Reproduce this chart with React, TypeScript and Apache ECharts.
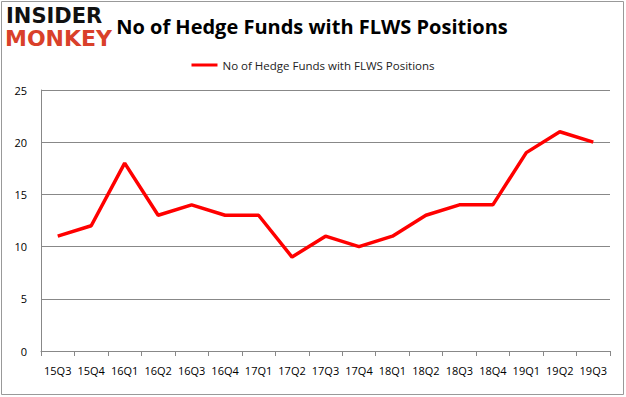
import React, { useEffect, useRef } from "react";
import * as echarts from "echarts";

const categories = ["15Q3", "15Q4", "16Q1", "16Q2", "16Q3", "16Q4", "17Q1", "17Q2", "17Q3", "17Q4", "18Q1", "18Q2", "18Q3", "18Q4", "19Q1", "19Q2", "19Q3"];
const hedgeFunds = [11, 12, 18, 13, 14, 13, 13, 9, 11, 10, 11, 13, 14, 14, 19, 21, 20];
const seriesName = "No of Hedge Funds with FLWS Positions";
const titleText = "No of Hedge Funds with FLWS Positions";

export default function App() {
  const ref = useRef<HTMLDivElement>(null);
  useEffect(() => {
    if (!ref.current) return;
    const chart = echarts.init(ref.current, null, { renderer: "svg" });
    chart.setOption({
      animation: false,
      backgroundColor: "#ffffff",
      title: {
        text: titleText,
        left: 307,
        textAlign: "center",
        top: 11,
        textStyle: { fontFamily: "Open Sans", fontWeight: "bold", fontSize: 20, color: "#000" },
      },
      legend: {
        data: [seriesName],
        top: 54,
        left: "center",
        itemWidth: 26,
        itemHeight: 3,
        icon: "rect",
        textStyle: { fontFamily: "Open Sans", fontSize: 11.5, color: "#222" },
      },
      grid: { left: 41, right: 16, top: 90, bottom: 46 },
      xAxis: {
        type: "category",
        data: categories,
        boundaryGap: true,
        axisLine: { lineStyle: { color: "#888", width: 1 } },
        axisTick: { show: true, alignWithLabel: false, length: 5, lineStyle: { color: "#888" } },
        axisLabel: { fontFamily: "Open Sans", fontSize: 11, color: "#000", margin: 14, interval: 0 },
      },
      yAxis: {
        type: "value",
        min: 0,
        max: 25,
        interval: 5,
        axisLine: { show: true, lineStyle: { color: "#888" } },
        axisTick: { show: false },
        splitLine: { lineStyle: { color: "#888", width: 1 } },
        axisLabel: { fontFamily: "Open Sans", fontSize: 11, color: "#000", margin: 14 },
      },
      series: [
        {
          name: seriesName,
          type: "line",
          data: hedgeFunds,
          showSymbol: false,
          symbol: "none",
          lineStyle: { color: "#ff0000", width: 3.5 },
          itemStyle: { color: "#ff0000" },
        },
      ],
      graphic: [
        {
          type: "rect",
          shape: { x: 1.5, y: 1.5, width: 622, height: 393 },
          style: { fill: "none", stroke: "#999", lineWidth: 1 },
          silent: true,
        },
        {
          type: "text",
          left: 6,
          top: 5,
          style: { text: "INSIDER", fontFamily: "DejaVu Sans", fontWeight: "bold", fontSize: 21, fill: "#111" },
        },
        {
          type: "text",
          left: 5,
          top: 27,
          style: { text: "MONKEY", fontFamily: "DejaVu Sans", fontWeight: "bold", fontSize: 22, fill: "#d9402a" },
        },
      ],
    });
    return () => chart.dispose();
  }, []);
  return <div ref={ref} style={{ width: 626, height: 397, position: "absolute", left: 0, top: 0 }} />;
}
